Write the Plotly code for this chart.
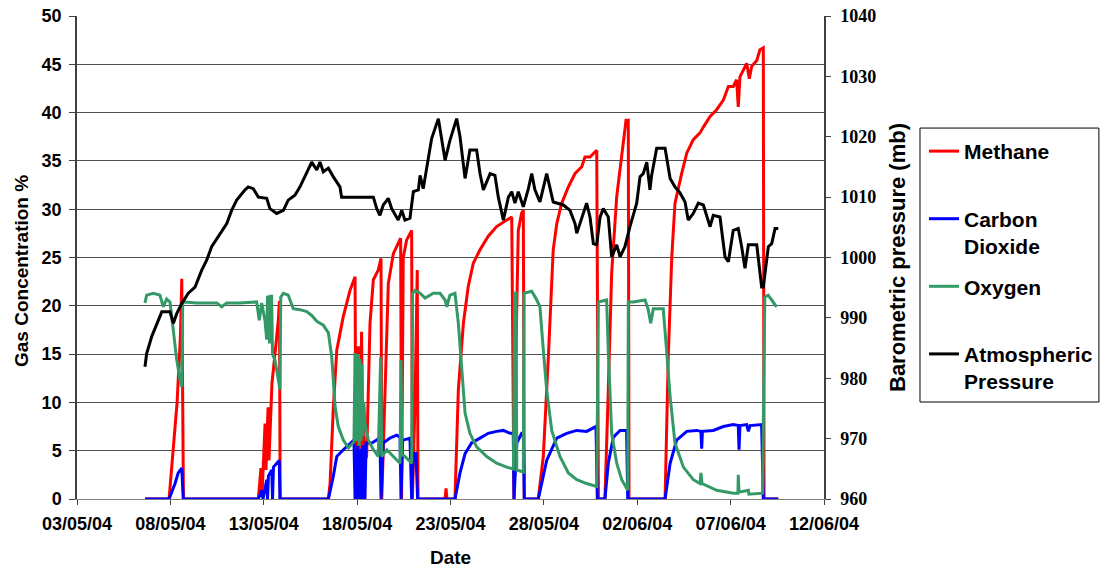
import pandas as pd
import plotly.graph_objects as go

# ---- data (days measured from 03/05/2004 00:00) ----
base_date = "2004-05-03"

pressure_days = [3.64, 3.73, 4.00, 4.27, 4.54, 4.98, 5.16, 5.34, 5.61, 5.96, 6.32, 6.68, 6.95, 7.21, 7.57,
                 8.02, 8.28, 8.55, 9.00, 9.17, 9.44, 9.71, 10.16, 10.33, 10.69, 11.05, 11.31, 11.67, 11.94,
                 12.30, 12.57, 12.84, 13.01, 13.19, 13.46, 13.72, 14.08, 14.17, 15.87, 16.05, 16.22, 16.40,
                 16.67, 16.85, 17.20, 17.39, 17.56, 17.83, 18.01, 18.28, 18.37, 18.54, 18.73, 18.99, 19.35,
                 19.71, 19.97, 20.33, 20.51, 20.78, 21.04, 21.40, 21.58, 21.76, 22.12, 22.38, 22.56, 22.83,
                 23.10, 23.28, 23.45, 23.63, 23.90, 24.17, 24.35, 24.52, 24.79, 25.15, 25.50, 26.04, 26.40,
                 26.67, 26.76, 27.03, 27.29, 27.47, 27.65, 27.83, 28.01, 28.18, 28.45, 28.63, 28.90, 29.08,
                 29.34, 29.61, 29.97, 30.15, 30.32, 30.51, 30.68, 30.77, 31.04, 31.49, 31.76, 32.02, 32.29,
                 32.56, 32.73, 33.00, 33.27, 33.54, 33.72, 33.90, 34.07, 34.43, 34.70, 34.88, 35.14, 35.41,
                 35.59, 35.77, 35.95, 36.40, 36.66, 36.75, 37.02, 37.20, 37.38, 37.55]
pressure_mb = [981.9, 984.1, 986.9, 989.1, 991.0, 991.0, 989.1, 990.7, 992.4, 994.1, 995.1, 997.9, 999.6, 1001.8, 1003.4,
               1005.6, 1007.8, 1009.5, 1011.2, 1011.7, 1011.4, 1010.0, 1009.8, 1008.1, 1007.3, 1007.8, 1009.5, 1010.3, 1011.7,
               1013.9, 1015.8, 1014.5, 1015.8, 1014.2, 1014.8, 1013.4, 1011.7, 1010.0, 1010.0, 1008.1, 1007.0, 1008.7,
               1009.8, 1008.1, 1006.2, 1007.8, 1006.2, 1006.5, 1010.9, 1011.2, 1013.6, 1011.4, 1014.8, 1019.7, 1023.0,
               1016.1, 1019.4, 1023.0, 1020.0, 1013.1, 1017.8, 1017.8, 1013.9, 1011.2, 1013.9, 1013.6, 1010.0, 1006.2,
               1010.0, 1010.9, 1009.0, 1010.9, 1008.4, 1011.4, 1013.9, 1011.2, 1009.2, 1013.9, 1009.2, 1008.7, 1007.8,
               1005.6, 1004.0, 1006.7, 1009.0, 1006.7, 1002.3, 1002.1, 1006.7, 1008.1, 1006.7, 1000.1, 1002.1, 1000.1,
               1001.8, 1005.1, 1009.0, 1013.4, 1013.9, 1015.8, 1011.2, 1013.6, 1018.1, 1018.1, 1013.1, 1011.7, 1010.7,
               1009.2, 1006.2, 1007.3, 1009.0, 1008.7, 1006.7, 1005.1, 1007.0, 1006.7, 1000.1, 999.3, 1004.5, 1004.8,
               1001.8, 998.2, 1002.1, 1002.1, 995.1, 995.1, 1001.8, 1002.3, 1004.8, 1004.8]

methane_days = [3.64, 4.93, 5.36, 5.54, 5.61, 5.64, 5.70,
                9.71, 9.85, 9.91, 10.07, 10.12, 10.23, 10.28, 10.44, 10.60, 10.78, 10.84, 10.88,
                13.46, 13.55, 13.72, 13.91, 14.26, 14.62, 14.89, 14.94,
                14.99, 15.03, 15.06, 15.10, 15.15, 15.24, 15.29, 15.33, 15.40, 15.51,
                15.69, 15.87, 16.13, 16.28, 16.32,
                16.39, 16.67, 16.94, 17.20, 17.33, 17.38, 17.40, 17.47, 17.65, 17.83, 17.92, 17.96,
                18.10, 18.22, 18.26,
                19.71, 19.76, 19.81,
                20.24, 20.42, 20.69, 20.95, 21.22, 21.58, 22.02, 22.47, 23.01, 23.28, 23.40,
                23.45, 23.63, 23.81, 23.90, 23.95,
                24.70, 24.97, 25.24, 25.33, 25.50, 25.69, 25.95, 26.31, 26.67, 27.03, 27.20, 27.47, 27.83, 27.92,
                28.27, 28.45, 28.63, 28.90, 29.17, 29.40, 29.52, 29.56,
                31.49, 31.66, 31.85, 32.02, 32.38, 32.65, 33.00, 33.36, 33.54, 33.90, 34.25, 34.61, 34.88,
                35.14, 35.32, 35.41, 35.50, 35.86, 36.00, 36.13, 36.40, 36.57, 36.75, 36.79, 37.55]
methane_pct = [0, 0, 10, 17, 22.8, 15, 0,
               0, 3.2, 0.5, 7.8, 3, 9.5, 4, 12, 15, 18.5, 20.5, 0,
               0, 1.6, 9.2, 15.4, 18.9, 21.6, 23.0, 0,
               15, 5, 15.8, 4, 8, 17.3, 4, 8, 4, 4.4,
               18.2, 22.7, 23.7, 24.9, 0,
               5, 22.3, 25.4, 26.5, 27.0, 0, 5, 25, 26.8, 27.5, 27.8, 0,
               10, 23.7, 0,
               0, 1.1, 0,
               0, 11.3, 18.2, 22.0, 24.4, 25.8, 27.2, 28.2, 28.9, 29.2, 0,
               10, 27.8, 29.6, 29.9, 0,
               0, 4.4, 14.7, 18.2, 25.8, 28.5, 30.6, 32.3, 33.7, 34.4, 35.4, 35.4, 36.1, 0,
               0, 11.3, 23.4, 31.3, 35.4, 39.2, 39.2, 0,
               0, 14.7, 25.1, 30.6, 33.7, 35.8, 37.2, 37.9, 38.5, 39.6, 40.3, 41.3, 42.7,
               42.7, 43.4, 40.6, 43.7, 45.1, 43.5, 44.8, 45.4, 46.5, 46.7, 0, 0]

co2_days = [3.64, 4.93, 5.25, 5.42, 5.61, 5.69,
            9.71, 9.89, 9.96, 10.07, 10.16, 10.20, 10.25, 10.43, 10.47, 10.52, 10.69, 10.83, 10.87,
            13.46, 13.72, 13.91, 14.26, 14.62, 14.83, 14.89,
            14.94, 14.98, 15.03, 15.06, 15.11, 15.15, 15.21, 15.24, 15.30, 15.33, 15.38, 15.42, 15.48,
            15.78, 16.05, 16.22, 16.28, 16.40, 16.76, 17.12, 17.30, 17.35, 17.44, 17.65, 17.83, 17.92,
            18.01, 18.15, 18.24,
            20.24, 20.51, 20.78, 21.13, 21.58, 22.02, 22.47, 22.83, 23.19, 23.36, 23.40, 23.55, 23.81, 23.90, 23.95,
            24.70, 25.15, 25.69, 26.22, 26.76, 27.29, 27.79, 27.86,
            28.27, 28.45, 28.72, 29.08, 29.43, 29.49,
            31.49, 31.76, 32.11, 32.65, 33.18, 33.41, 33.45, 33.49, 34.07, 34.61, 35.14, 35.41, 35.45, 35.50,
            35.86, 35.95, 36.04, 36.66, 36.75, 37.55]
co2_pct = [0, 0, 1.6, 2.7, 3.2, 0,
           0, 0.9, 0, 1.2, 2.0, 0, 2.4, 3.0, 0, 3.3, 3.7, 4.0, 0,
           0, 2.3, 4.4, 5.1, 5.8, 6.1, 0,
           5, 0, 5.5, 0, 5, 0, 5.2, 0, 5.5, 0, 5.6, 0, 5.8,
           5.8, 6.1, 6.4, 0, 5.8, 6.3, 6.6, 6.4, 0, 6.1, 6.2, 6.3, 0,
           4.7, 4.7, 0,
           0, 2.7, 4.7, 5.8, 6.3, 6.8, 7.0, 7.1, 6.8, 6.8, 0, 5.8, 6.8, 6.8, 0,
           0, 4.0, 6.3, 6.8, 7.1, 7.0, 7.5, 0,
           0, 3.7, 6.4, 7.1, 7.1, 0,
           0, 3.7, 6.1, 7.0, 7.1, 7.0, 5.2, 7.0, 7.1, 7.5, 7.7, 7.6, 5.1, 7.6,
           7.7, 7.0, 7.6, 7.7, 0, 0]

o2_days = [3.64, 3.73, 4.09, 4.44, 4.62, 4.80, 4.98, 5.16, 5.34, 5.52, 5.61, 5.66, 5.78, 6.41, 7.48, 7.75,
           8.02, 8.73, 9.26, 9.62, 9.76, 9.89, 10.07, 10.16, 10.20, 10.24, 10.31, 10.36, 10.42, 10.47, 10.60,
           10.78, 10.87, 10.91, 11.05, 11.31, 11.58, 11.94, 12.30, 12.57, 12.84, 13.19, 13.46, 13.64, 13.82,
           13.99, 14.26, 14.53, 14.62, 14.83, 14.89,
           14.94, 14.99, 15.03, 15.07, 15.11, 15.15, 15.21, 15.26, 15.31, 15.36, 15.42, 15.60, 15.87, 16.13,
           16.26, 16.32, 16.59, 16.94, 17.30, 17.35, 17.40, 17.56, 17.92, 17.97, 18.10, 18.37, 18.64, 19.08,
           19.44, 19.71, 19.80, 19.97, 20.24, 20.42, 20.60, 20.78, 21.04, 21.40, 21.94, 22.47, 23.01, 23.28,
           23.37, 23.43, 23.51, 23.55, 23.90, 23.94, 24.35, 24.62, 24.79, 24.97, 25.15, 25.42, 25.86, 26.31,
           26.76, 27.29, 27.83, 27.92, 28.36, 28.45, 28.63, 28.90, 29.17, 29.49, 29.52, 29.79, 30.42, 30.59,
           30.72, 30.86, 31.39, 31.57, 31.76, 32.02, 32.47, 33.00, 33.36, 33.41, 33.47, 34.25, 35.14, 35.39,
           35.41, 35.45, 35.95, 35.98, 36.71, 36.83, 37.01, 37.20, 37.46]
o2_pct = [20.3, 21.1, 21.3, 21.1, 19.9, 20.7, 20.4, 17.2, 14.4, 12.3, 11.6, 20.3, 20.4, 20.3, 20.3, 19.9,
          20.3, 20.3, 20.4, 20.4, 18.5, 20.3, 18.4, 16.5, 20.9, 21.0, 16.1, 21.0, 21.0, 15.0, 14.4,
          12.0, 11.3, 20.9, 21.3, 21.1, 19.7, 19.6, 19.4, 19.0, 18.4, 18.0, 17.2, 14.7, 9.6,
          7.5, 6.1, 5.3, 5.5, 5.9, 15.1,
          6.0, 15.0, 6.0, 15.0, 5.5, 14.5, 6.0, 14.0, 6.5, 10.0, 7.8, 6.1, 5.1, 4.4,
          14.7, 4.4, 5.1, 4.4, 3.7, 14.4, 4.6, 4.4, 3.7, 21.3, 21.6, 21.3, 20.8, 21.3,
          21.3, 20.6, 19.9, 21.1, 21.3, 18.2, 13.0, 8.9, 6.8, 5.4, 4.4, 3.7, 3.3, 3.2,
          3.1, 21.3, 21.3, 3.0, 2.8, 21.3, 21.5, 20.6, 19.9, 15.4, 11.3, 7.1, 4.4, 2.7,
          2.0, 1.6, 1.3, 20.4, 20.6, 15.4, 6.8, 3.7, 2.0, 0.9, 20.4, 20.4, 20.6, 19.6,
          18.2, 19.7, 19.7, 15.4, 10.6, 5.8, 3.3, 2.0, 1.6, 2.7, 1.6, 0.9, 0.6, 0.6,
          2.5, 0.7, 0.9, 0.5, 0.6, 20.9, 21.1, 20.6, 19.9]

left_ticks = list(range(0, 51, 5))
right_ticks = list(range(960, 1041, 10))
date_ticks = ["2004-05-03", "2004-05-08", "2004-05-13", "2004-05-18", "2004-05-23",
              "2004-05-28", "2004-06-02", "2004-06-07", "2004-06-12"]
date_tick_labels = ["03/05/04", "08/05/04", "13/05/04", "18/05/04", "23/05/04",
                    "28/05/04", "02/06/04", "07/06/04", "12/06/04"]
series_names = ["Methane<br> ", "Carbon<br>Dioxide", "Oxygen<br> ", "Atmospheric<br>Pressure"]


def to_dates(days):
    return pd.Timestamp(base_date) + pd.to_timedelta(days, unit="D")


def bold(labels):
    return ["<b>%s</b>" % s for s in labels]


FONT = "Liberation Sans"
fig = go.Figure()

series = [
    (methane_days, methane_pct, "#FF0000", "y"),
    (co2_days, co2_pct, "#0000FF", "y"),
    (o2_days, o2_pct, "#339966", "y"),
    (pressure_days, pressure_mb, "#000000", "y2"),
]
for i, (d, v, col, ax) in enumerate(series):
    fig.add_trace(go.Scatter(x=to_dates(d), y=v, name="<b>%s</b>" % series_names[i], mode="lines",
                             yaxis=ax, line=dict(color=col, width=3), legendgroup=str(i)))

fig.update_layout(
    width=1101, height=575,
    margin=dict(l=77, r=277, t=16, b=76, autoexpand=False),
    paper_bgcolor="white", plot_bgcolor="white",
    font=dict(family=FONT, size=17, color="black"),
    showlegend=True,
    legend=dict(x=1.1339, y=0.762, xanchor="left", yanchor="top",
                font=dict(family=FONT, size=21, color="black"),
                bgcolor="rgba(0,0,0,0)", borderwidth=0, tracegroupgap=10,
                valign="top", itemwidth=30),
    xaxis=dict(type="date", range=["2004-05-03", "2004-06-12"],
               tickvals=date_ticks, ticktext=bold(date_tick_labels),
               showgrid=False, showline=True, linecolor="#808080", linewidth=1,
               ticks="outside", ticklen=5, tickcolor="#404040", ticklabelstandoff=3,
               tickfont=dict(family=FONT, size=18),
               title=dict(text="<b>Date</b>", font=dict(family=FONT, size=19), standoff=18),
               zeroline=False, automargin=False),
    yaxis=dict(range=[0, 50], tickvals=left_ticks, ticktext=bold([str(t) for t in left_ticks]),
               showgrid=True, gridcolor="#505050", gridwidth=1,
               showline=True, linecolor="#404040", linewidth=1.5, ticks="outside", ticklen=6,
               tickcolor="#404040", zeroline=False, ticklabelstandoff=4,
               tickfont=dict(family=FONT, size=18), automargin=False),
    yaxis2=dict(range=[960, 1040], tickvals=right_ticks, ticktext=bold([str(t) for t in right_ticks]),
                overlaying="y", side="right",
                showgrid=False, showline=True, linecolor="#404040", linewidth=1.5,
                ticks="outside", ticklen=5, tickcolor="#404040", zeroline=False, ticklabelstandoff=6,
                tickfont=dict(family="Liberation Serif", size=18), automargin=False,
                title=dict(text="<b>Barometric pressure (mb)</b>",
                           font=dict(family=FONT, size=22), standoff=14)),
)

fig.add_annotation(text="<b>Gas Concentration %</b>", xref="paper", yref="paper",
                   x=-0.075, y=0.472, xanchor="center", yanchor="middle", textangle=-90,
                   showarrow=False, font=dict(family=FONT, size=19, color="black"))

fig.add_shape(type="rect", xref="paper", yref="paper",
              x0=1.1285, x1=1.368, y0=0.2008, y1=0.768,
              line=dict(color="black", width=1), fillcolor="rgba(0,0,0,0)")

fig.write_html("out.html")
